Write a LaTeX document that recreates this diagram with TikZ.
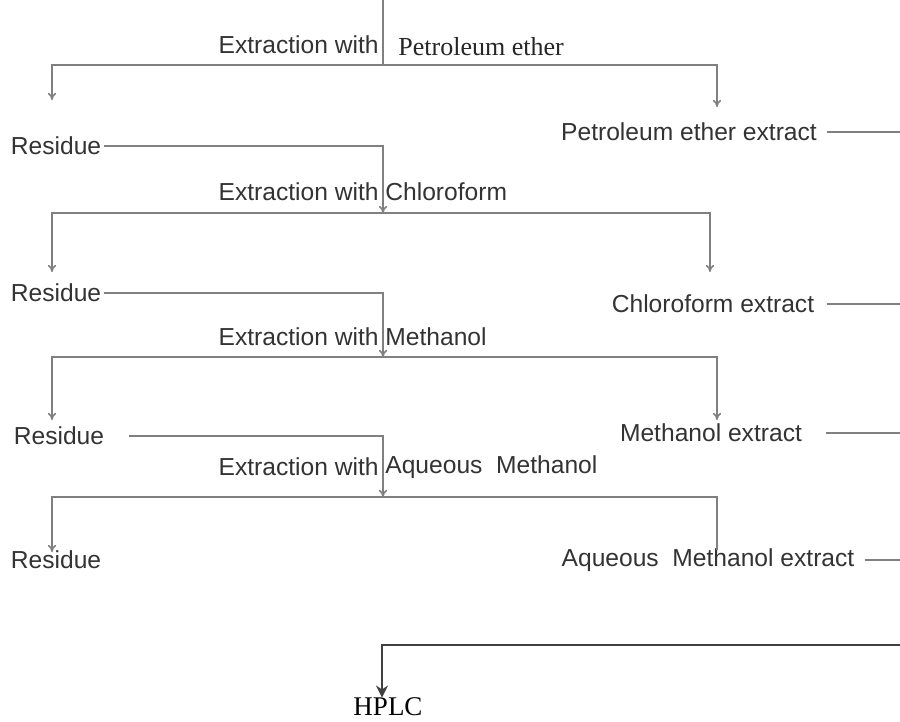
\documentclass[tikz,border=0pt]{standalone}
\usepackage{fontspec}
\setmainfont{Liberation Sans}
\newfontfamily\timesfont{Liberation Serif}
\usetikzlibrary{arrows.meta}

\begin{document}
\begin{tikzpicture}[
	x=0.5pt,
	y=-0.5pt,
	txt/.style={
		text=black!80,
		inner sep=1pt,
		font=\fontsize{12.3}{14}\selectfont
	},
	serif/.style={
		text=black!85,
		inner sep=1pt,
		font=\timesfont\fontsize{13}{15}\selectfont
	},
	flow/.style={
		draw=gray,
		line width=0.8pt
	},
	arr/.style={
		flow,
		-{To[length=3.5pt,width=4pt]}
	},
]

\useasboundingbox (0,0) rectangle (900,722);

% Petroleum ether
\coordinate (top) at (383,0);
\coordinate (s1) at (383,65);
\coordinate (l1) at (52,100);
\coordinate (r1) at (717,107);
\node[txt, anchor=east] (ext1) at (381,45) {Extraction with};
\node[serif, anchor=west] (sol1) at (396,47) {Petroleum ether};
\node[txt] (res1) at (56,146) {Residue};
\node[txt] (pe) at (689,132) {Petroleum ether extract};

\draw[flow] (top) -- (s1);
\draw[arr] (s1) -| (l1);
\draw[arr] (s1) -| (r1);

% Chloroform
\coordinate (s2) at (383,213);
\coordinate (l2) at (52,272);
\coordinate (r2) at (710,272);
\node[txt, anchor=east] (ext2) at (381,192) {Extraction with};
\node[txt, anchor=west] (sol2) at (383,192) {Chloroform};
\node[txt] (res2) at (56,293) {Residue};
\node[txt] (chl) at (713,304) {Chloroform extract};

\draw[arr] (res1.east) -| (s2);
\draw[arr] (s2) -| (l2);
\draw[arr] (s2) -| (r2);

% Methanol
\coordinate (s3) at (383,357);
\coordinate (l3) at (52,420);
\coordinate (r3) at (717,420);
\node[txt, anchor=east] (ext3) at (381,337) {Extraction with};
\node[txt, anchor=west] (sol3) at (383,337) {Methanol};
\node[txt] (res3) at (59,436) {Residue};
\node[txt] (met) at (711,433) {Methanol extract};

\draw[arr] (res2.east) -| (s3);
\draw[arr] (s3) -| (l3);
\draw[arr] (s3) -| (r3);

% Aqueous methanol
\coordinate (s4) at (383,497);
\coordinate (l4) at (52,552);
\coordinate (r4) at (717,550);
\node[txt, anchor=east] (ext4) at (381,467) {Extraction with};
\node[txt, anchor=west] (sol4) at (383,467) {Aqueous\ \ Methanol};
\node[txt] (res4) at (56,560) {Residue};
\node[txt] (aq) at (708,560) {Aqueous\ \ Methanol extract};

\draw[arr, shorten <=11pt] (res3.east) -| (s4);
\draw[arr] (s4) -| (l4);
\draw[flow] (s4) -| (r4);

% Extracts, led off to the right edge
\coordinate (edge) at (900,645);

\draw[flow, shorten <=4pt] (pe.east) -- (pe.east -| edge);
\draw[flow, shorten <=5pt] (chl.east) -- (chl.east -| edge);
\draw[flow, shorten <=11pt] (met.east) -- (met.east -| edge);
\draw[flow, shorten <=4pt] (aq.east) -- (aq.east -| edge);

% HPLC
\node[serif, text=black, font=\timesfont\fontsize{13.5}{15}\selectfont] (hplc) at (388,707) {HPLC};
\draw[line width=1.2pt, draw=black!75, -{Stealth[length=6pt,width=6pt]}] (edge) -| ([xshift=-3pt,yshift=-1pt]hplc.north);

\end{tikzpicture}
\end{document}
